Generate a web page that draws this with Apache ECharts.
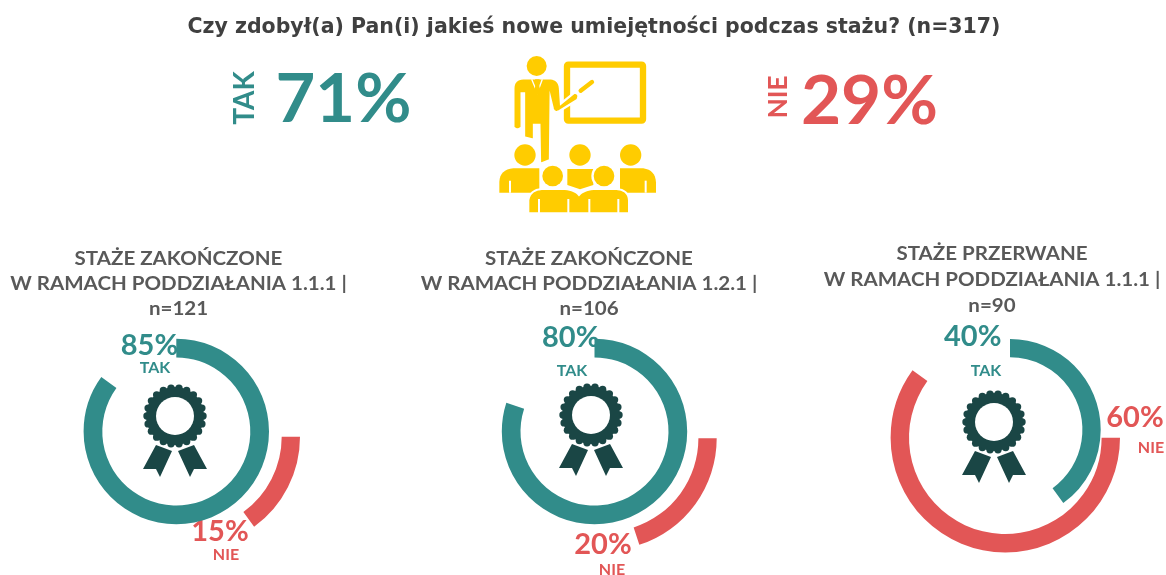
<!DOCTYPE html>
<html><head><meta charset="utf-8">
<style>html,body{margin:0;padding:0;background:#fff}#c{width:1166px;height:575px}</style>
<script src="https://cdn.jsdelivr.net/npm/echarts@6/dist/echarts.min.js"></script></head>
<body><div id="c"></div>
<script>
const chartTitle = 'Czy zdobył(a) Pan(i) jakieś nowe umiejętności podczas stażu? (n=317)';
const answerLabels = ['TAK', 'NIE'];
const overallValues = [71, 29];
const panelHeadings = [
  ['STAŻE ZAKOŃCZONE', 'W RAMACH PODDZIAŁANIA 1.1.1 |', 'n=121'],
  ['STAŻE ZAKOŃCZONE', 'W RAMACH PODDZIAŁANIA 1.2.1 |', 'n=106'],
  ['STAŻE PRZERWANE', 'W RAMACH PODDZIAŁANIA 1.1.1 |', 'n=90']
];
const takValues = [85, 80, 40];
const nieValues = [15, 20, 60];

const TEAL = '#318c8a', RED = '#e25656', YELLOW = '#ffcc00', DARK = '#1a4645';
const FONT = 'Lato, "Open Sans", sans-serif';
const TITLE_FONT = '"DejaVu Sans", sans-serif';

// layout of each panel (px)
const layout = [
  {teal:[176.3,431.5,74,92.7], red:[188.7,436.7,93,111.3], badge:[175,416], headY:[259,284,309], headX:178.5,
   takPct:[149.5,346], takLbl:[155,368], niePct:[220,532], nieLbl:[226,555]},
  {teal:[594.5,431.5,74,92.7], red:[604.7,438.3,93.7,112], badge:[591,415], headY:[259,284,309], headX:589,
   takPct:[570.7,338], takLbl:[572,371], niePct:[603,545], nieLbl:[612,570]},
  {teal:[1010,429.7,72.4,90.7], red:[1005.3,437.7,96.3,114.7], badge:[994,422], headY:[254,280,306], headX:992,
   takPct:[972.7,337], takLbl:[986,371], niePct:[1135,418], nieLbl:[1151,448]}
];

function ring(geo, value, color, startAngle) {
  return {
    type:'pie', silent:true, clockwise:true, startAngle, animation:false,
    center:[geo[0],geo[1]], radius:[geo[2],geo[3]],
    label:{show:false}, labelLine:{show:false},
    data:[{value, itemStyle:{color}}, {value:100-value, itemStyle:{color:'transparent'}}]
  };
}
const series = [];
layout.forEach((l,i)=>{
  series.push(ring(l.teal, takValues[i], TEAL, 90));
  series.push(ring(l.red, nieValues[i], RED, 0));
});

function text(str,x,y,size,color,weight,extra,font){
  return Object.assign({type:'text',x,y,silent:true,
    style:{text:str,fill:color,font:`${weight||700} ${size}px ${font||FONT}`,align:'center',verticalAlign:'middle'}},extra||{});
}

function badge(cx,cy){
  const kids=[];
  const R=28, n=22;
  for(let k=0;k<n;k++){
    const a=k/n*Math.PI*2;
    kids.push({type:'circle',shape:{cx:R*Math.cos(a),cy:R*Math.sin(a),r:3.7},style:{fill:DARK}});
  }
  kids.push({type:'circle',shape:{cx:0,cy:0,r:29},style:{fill:DARK}});
  kids.push({type:'circle',shape:{cx:0,cy:0,r:19},style:{fill:'#fff'}});
  kids.push({type:'polygon',shape:{points:[[-19,29],[-3,35],[-15,61],[-19,53],[-32,53]]},style:{fill:DARK}});
  kids.push({type:'polygon',shape:{points:[[19,29],[3,35],[15,61],[19,53],[32,53]]},style:{fill:DARK}});
  return {type:'group',x:cx,y:cy,silent:true,children:kids};
}

// icon outline: M/L/Q string sampled into polygon points
function outline(d){
  const t=d.trim().split(/\s+|(?<=[A-Z])(?=\d)/), pts=[];
  let i=0, last=null;
  while(i<t.length){
    const k=t[i++];
    if(k==='M'||k==='L'){ last=[+t[i],+t[i+1]]; pts.push(last); i+=2; }
    else if(k==='Q'){
      const c=[+t[i],+t[i+1]], e=[+t[i+2],+t[i+3]]; i+=4;
      for(let s=1;s<=8;s++){ const u=s/8,v=1-u;
        pts.push([v*v*last[0]+2*u*v*c[0]+u*u*e[0], v*v*last[1]+2*u*v*c[1]+u*u*e[1]]); }
      last=e;
    }
  }
  return pts;
}

function presenter(){
  const Y={fill:YELLOW}, W={fill:'#fff'};
  const c=(x,y,r,st)=>({type:'circle',shape:{cx:x,cy:y,r},style:st||Y});
  const p=(d,st)=>({type:'polygon',shape:{points:outline(d)},style:st||Y});
  const slit=(x,y1,y2)=>({type:'line',shape:{x1:x,y1,x2:x,y2},style:{stroke:'#fff',lineWidth:6}});
  return {type:'group',x:480,y:50,scaleX:1/3,scaleY:1/3,silent:true,children:[
    {type:'rect',shape:{x:261,y:44,width:228,height:168,r:4},style:{fill:'none',stroke:YELLOW,lineWidth:19}},
    {type:'line',shape:{x1:302,y1:122,x2:336,y2:96},style:{stroke:YELLOW,lineWidth:13,lineCap:'round'}},
    c(170,48,30),
    p('M100 115 Q100 87 130 85 L212 85 Q238 88 240 115 L243 160 L283 128 Q302 130 292 150 L235 185 Q222 190 218 175 L212 150 L210 330 L180 342 L178 225 L162 225 L162 270 L132 262 L132 130 L125 130 L125 232 Q112 245 100 232',
      {fill:YELLOW,stroke:'#fff',lineWidth:7}),
    {type:'polyline',shape:{points:[[155,88],[172,128],[187,88]]},style:{fill:'none',stroke:'#fff',lineWidth:4}},
    p('M165 88 L179 88 L176 100 L182 125 L172 135 L162 125 L168 100'),
    c(135,315,32), c(300,315,32), c(452,315,32),
    p('M58 428 L58 395 Q60 358 100 355 L178 355 L178 428'),
    p('M262 357 L340 357 L340 405 L300 418 L262 405'),
    p('M420 355 L490 355 Q526 360 528 397 L528 428 L420 428'),
    c(218,378,38,W), c(372,378,38,W),
    c(218,378,31), c(372,378,31),
    p('M145 490 L145 450 Q150 420 185 417 L255 417 Q285 420 297 435 Q310 420 340 417 L410 417 Q445 420 447 450 L447 490',
      {fill:YELLOW,stroke:'#fff',lineWidth:6}),
    slit(90,392,428), slit(497,392,428),
    slit(177,447,490), slit(265,447,490), slit(328,447,490), slit(415,447,490)
  ]};
}

const graphics = [
  text(chartTitle,594,28,20.5,'#404040',700,null,TITLE_FONT),
  text(answerLabels[0],245,98,28,TEAL,700,{rotation:Math.PI/2}),
  text(overallValues[0]+'%',343.5,101,66,TEAL,700,{scaleX:1.04}),
  text(answerLabels[1],779,97,26,RED,700,{rotation:Math.PI/2}),
  text(overallValues[1]+'%',869.5,103,66,RED,700,{scaleX:1.05}),
  presenter()
];
layout.forEach((l,i)=>{
  panelHeadings[i].forEach((t,j)=>graphics.push(text(t,l.headX,l.headY[j],18,'#595959',700,{scaleX:1.14})));
  graphics.push(badge(l.badge[0],l.badge[1]));
  graphics.push(text(takValues[i]+'%',l.takPct[0],l.takPct[1],29,TEAL,700));
  graphics.push(text(answerLabels[0],l.takLbl[0],l.takLbl[1],16,TEAL,700));
  graphics.push(text(nieValues[i]+'%',l.niePct[0],l.niePct[1],29,RED,700));
  graphics.push(text(answerLabels[1],l.nieLbl[0],l.nieLbl[1],16,RED,700));
});

const chart = echarts.init(document.getElementById('c'),null,{renderer:'canvas'});
chart.setOption({animation:false,backgroundColor:'#fff',series,graphic:{elements:graphics}});
</script></body></html>
